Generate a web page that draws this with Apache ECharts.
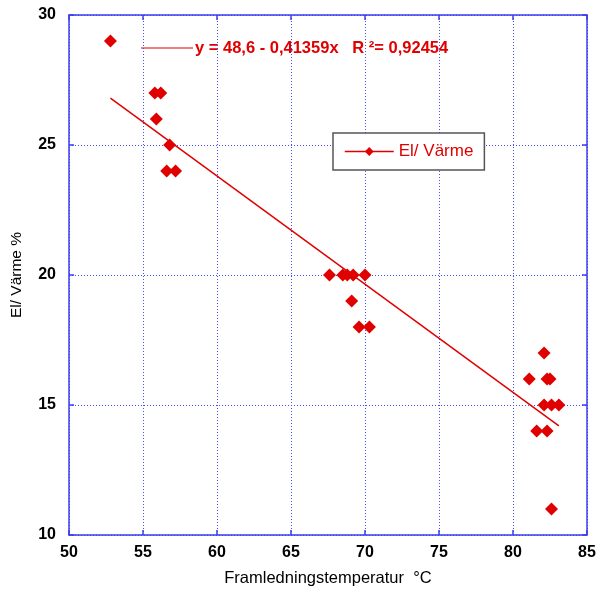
<!DOCTYPE html>
<html>
<head>
<meta charset="utf-8">
<script src="https://cdn.jsdelivr.net/npm/echarts@6/dist/echarts.min.js"></script>
<style>
  html, body { margin: 0; padding: 0; background: #ffffff; }
  #main { width: 597px; height: 589px; }
</style>
</head>
<body>
<div id="main"></div>
<script>
// mätpunkter: framledningstemperatur (°C) och El/ Värme (%)
var tempX = [52.8, 55.8, 56.2, 55.9, 56.8, 56.6, 57.2,
  67.6, 68.5, 68.8, 69.2, 70.0, 69.1, 69.6, 70.3,
  82.1, 81.1, 82.3, 82.5, 82.1, 82.6, 83.1, 81.6, 82.3, 82.6]
var elVarme = [29, 27, 27, 26, 25, 24, 24,
  20, 20, 20, 20, 20, 19, 18, 18,
  17, 16, 16, 16, 15, 15, 15, 14, 14, 11]

// regressionslinjen, ändpunkter avlästa i bilden
var fitX = [52.8, 83.1]
var fitY = [26.8, 14.2]

var xTicks = [50, 55, 60, 65, 70, 75, 80, 85]
var yTicks = [10, 15, 20, 25, 30]

var fitText = 'y = 48,6 - 0,41359x   R ²= 0,92454'

var blue = '#3c3cf0'
var red = '#e00000'

var points = tempX.map(function (x, i) { return [x, elVarme[i]] })
var fitLine = fitX.map(function (x, i) { return [x, fitY[i]] })

var myChart = echarts.init(document.getElementById('main'))

var baseAxis = {
  type: 'value',
  interval: 5,
  axisLine: { show: true, onZero: false, lineStyle: { color: blue, width: 1.5 } },
  axisTick: { show: true, inside: true, length: 5, lineStyle: { color: blue, width: 1.5 } },
  splitLine: { show: false },
  axisLabel: { show: false }
}

myChart.setOption({
  animation: false,
  backgroundColor: '#ffffff',
  grid: { left: 69, top: 15, right: 10, bottom: 54, show: false, outerBoundsMode: 'none', containLabel: false },
  xAxis: [
    Object.assign({}, baseAxis, {
      min: xTicks[0],
      max: xTicks[xTicks.length - 1],
      position: 'bottom',
      name: 'Framledningstemperatur  °C',
      nameLocation: 'middle',
      nameGap: 35,
      nameTextStyle: { fontFamily: 'Liberation Sans', fontSize: 16.5, color: '#000' },
      axisLabel: { show: true, margin: 10, fontFamily: 'Liberation Sans', fontWeight: 'bold', fontSize: 16, color: '#000' },
      splitLine: { show: true, lineStyle: { color: '#4a4aff', type: [1, 2], width: 1 } }
    }),
    Object.assign({}, baseAxis, {
      min: xTicks[0],
      max: xTicks[xTicks.length - 1],
      position: 'top'
    })
  ],
  yAxis: [
    Object.assign({}, baseAxis, {
      min: yTicks[0],
      max: yTicks[yTicks.length - 1],
      position: 'left',
      name: 'El/ Värme %',
      nameLocation: 'middle',
      nameGap: 44,
      nameTextStyle: { fontFamily: 'Liberation Sans', fontSize: 15.5, color: '#000' },
      axisLabel: { show: true, margin: 13, fontFamily: 'Liberation Sans', fontWeight: 'bold', fontSize: 16, color: '#000' },
      splitLine: { show: true, lineStyle: { color: '#4a4aff', type: [1, 2], width: 1 } }
    }),
    Object.assign({}, baseAxis, {
      min: yTicks[0],
      max: yTicks[yTicks.length - 1],
      position: 'right'
    })
  ],
  legend: {
    data: ['El/ Värme'],
    left: 333,
    top: 133,
    padding: [10, 11, 10, 11],
    itemWidth: 49,
    itemHeight: 11,
    itemGap: 5,
    backgroundColor: '#ffffff',
    borderColor: '#555555',
    borderWidth: 1.5,
    borderRadius: 0,
    textStyle: { fontFamily: 'Liberation Sans', fontSize: 17, color: red },
    lineStyle: { color: red, width: 1.5, opacity: 1 }
  },
  graphic: [
    {
      type: 'line',
      shape: { x1: 141, y1: 48, x2: 193, y2: 48 },
      style: { stroke: red, lineWidth: 1.2 }
    },
    {
      type: 'text',
      left: 195,
      top: 40,
      style: {
        text: fitText,
        fontFamily: 'Liberation Sans',
        fontWeight: 'bold',
        fontSize: 16.5,
        fill: red
      }
    }
  ],
  series: [
    {
      name: 'El/ Värme',
      type: 'line',
      symbol: 'diamond',
      symbolSize: 11,
      itemStyle: { color: red },
      lineStyle: { color: red, width: 1.5 },
      data: []
    },
    {
      name: 'punkter',
      type: 'scatter',
      symbol: 'diamond',
      symbolSize: 13,
      itemStyle: { color: red, opacity: 1 },
      data: points,
      z: 4
    },
    {
      name: 'regression',
      type: 'line',
      symbol: 'none',
      lineStyle: { color: red, width: 1.5 },
      data: fitLine,
      z: 3
    }
  ]
})
</script>
</body>
</html>
